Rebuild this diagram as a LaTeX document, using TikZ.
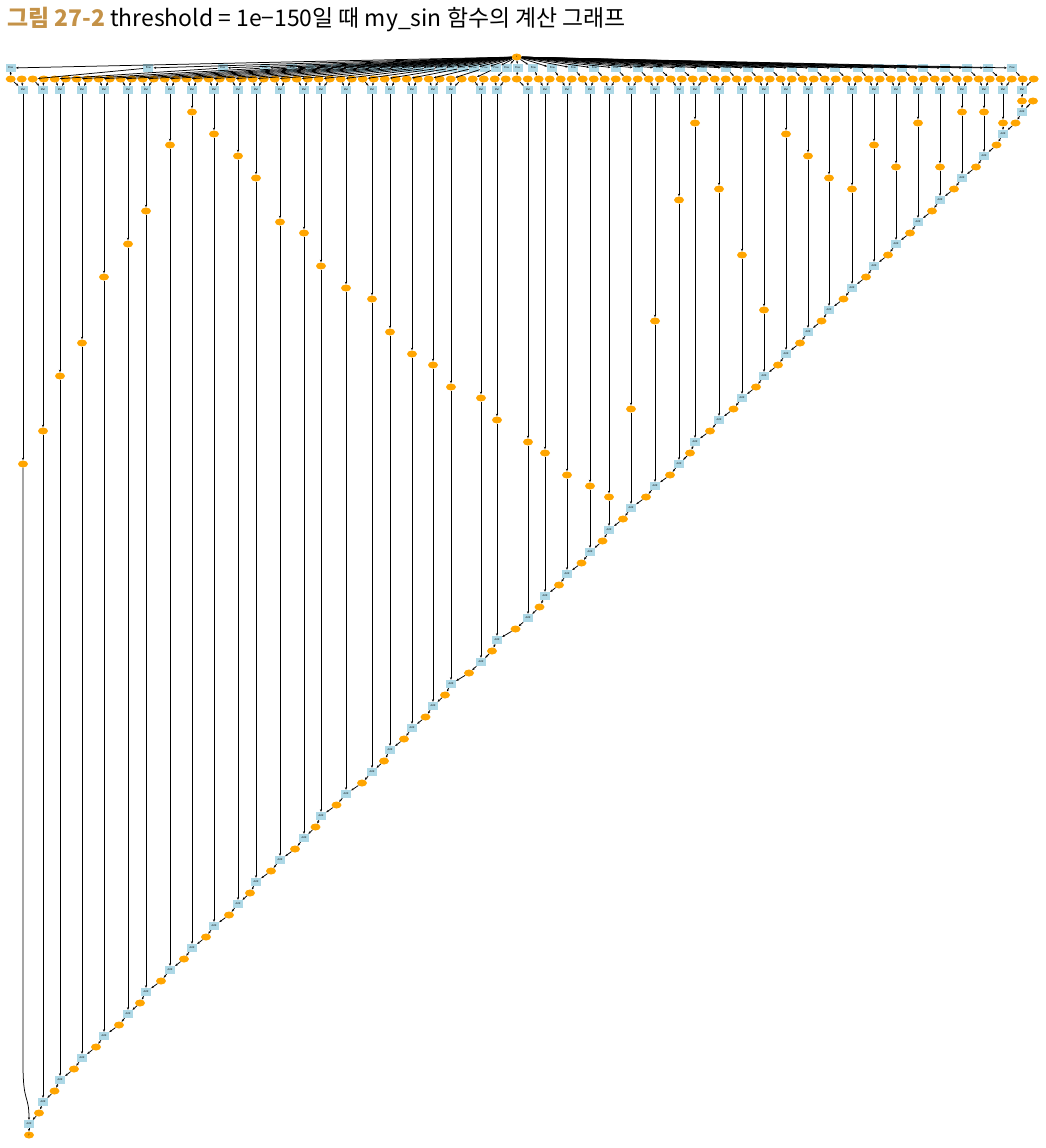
\documentclass[tikz,border=0pt]{standalone}
\usepackage{fontspec}
\setmainfont{Noto Sans CJK KR}
\usetikzlibrary{arrows.meta,calc,shapes.geometric}
\definecolor{VarOrange}{RGB}{255,165,0}
\definecolor{FnBlue}{RGB}{173,216,230}
\definecolor{TitleGold}{RGB}{196,146,72}

\begin{document}
\begin{tikzpicture}[x=1pt,y=-1pt,>={Stealth[length=2.6pt,width=2.2pt]},
  var/.style={ellipse,fill=VarOrange,minimum width=10pt,minimum height=7pt,inner sep=0pt,font=\fontsize{2.5}{3}\selectfont},
  fn/.style={rectangle,fill=FnBlue,minimum width=10pt,minimum height=8pt,inner sep=0pt,font=\fontsize{2.5}{3}\selectfont},
  edge/.style={->,line width=.75pt}]
\useasboundingbox (0,0) rectangle (1046,1148);
\node[anchor=base west,inner sep=0pt,font=\fontsize{22.9}{26}\selectfont] (title) at (7,27)
  {\textcolor{TitleGold}{\bfseries 그림 27-2} threshold = 1e−150일 때 my\_sin 함수의 계산 그래프};
% input x and the Pow row
\node[var] (x) at (516.7,57) {x};
\foreach \px [count=\m from 0] in {10.7,148.3,222.7,265,292.3,311,325.7,338.3,351,362.7,374,385,396.7,407.3,418.3,429.3,440.7,451.7,462.7,474,485,496,506.7,517.7,533.3,552.3,573.3,594.3,615.7,637.7,658.3,680,702,726,747.7,769.3,791.7,813.3,835,858,879,902,923,945,967,988,1012}
  \node[fn] (p\m) at (\px,68) {Pow};
% x**n and constants
\foreach \m in {0,...,46}{
  \node[var] (u\m) at ({10.7+22*\m},79) {};
  \node[var] (c\m) at ({21.7+22*\m},79) {};
}
% Mul, term t, Add
\foreach \mx/\tr/\ax [count=\m from 0] in {23/37/29,43/34/43,60/29/60,82/26/82,104/20/104,128/17/128,146/14/146,170/8/170,192/5/192,214/7/214,238/9/238,256/11/256,280/15/280,304/16/304,321/19/321,346/21/346,372/22/372,390/25/390,412/27/412,433/28/433,451/30/451,481/31/481,497/33/497,528/35/528,545/36/545,567/38/567,590/39/590,609/40/609,631/32/631,655/24/655,679/13/679,695/6/695,719/12/719,742/18/742,764/23/764,786/7/786,808/9/808,829/11/829,852/12/852,874/8/874,896/10/896,918/6/918,940/10/940,962/5/962,984/5/984,1003/6/1003,1022/4/1022}{
  \node[fn] (m\m) at (\mx,90) {Mul};
  \node[var] (t\m) at (\mx,{57+11*\tr}) {};
  \node[fn] (a\m) at (\ax,{1124-22*\m}) {Add};
}
\node[var] (z) at (1033,101) {};
\node[var] (y0) at ($(a0)+(0,11)$) {y};
\foreach \m [remember=\m as \n (initially 0)] in {1,...,46}
  \node[var] (y\m) at ($(a\m)!.5!(a\n)+(3,0)$) {};
% edges
\foreach \m in {0,...,46}{
  \draw[edge] (x) -- (p\m);
  \draw[edge] (p\m) -- (u\m);
  \draw[edge] (u\m) -- (m\m);
  \draw[edge] (c\m) -- (m\m);
  \draw[edge] (m\m) -- (t\m);
  \draw[edge] (a\m) -- (y\m);
}
\foreach \m in {1,...,46}
  \draw[edge] (t\m) -- (a\m);
\draw[edge] (t0) -- ($(t0)+(0,600)$) .. controls ($(t0)+(0,640)$) and ($(a0)+(0,-30)$) .. (a0);
\foreach \m [count=\n from 0] in {1,...,46}
  \draw[edge] (y\m) -- (a\n);
\draw[edge] (z) -- (a46);
\end{tikzpicture}
\end{document}
